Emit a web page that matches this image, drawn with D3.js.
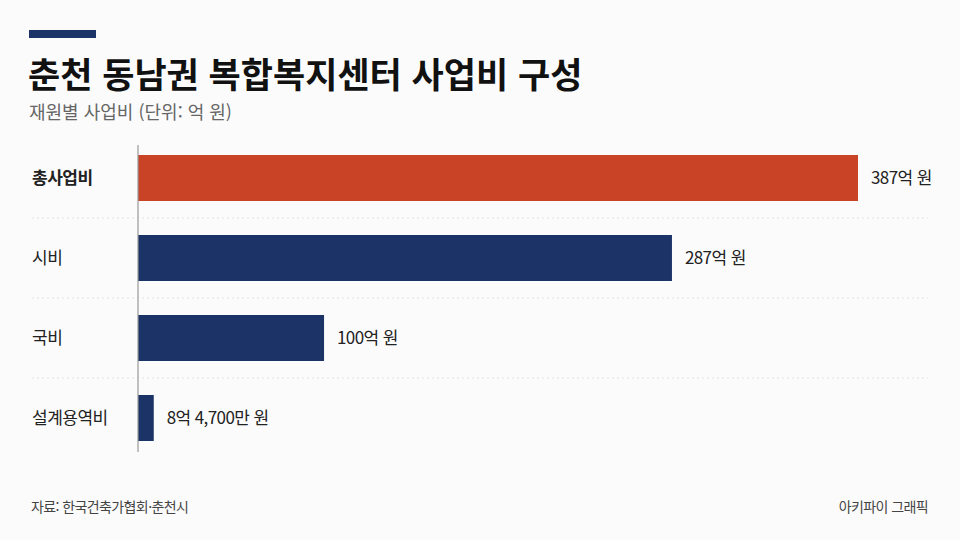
<!DOCTYPE html>
<html lang="ko">
<head>
<meta charset="utf-8">
<script src="https://cdn.jsdelivr.net/npm/d3@7"></script>
<style>
  html, body { margin: 0; padding: 0; background: #fbfbfb; }
  svg { display: block; font-family: "Noto Sans CJK KR", "Noto Sans", sans-serif; }
</style>
</head>
<body>
<svg id="chart" width="960" height="540"></svg>
<script>
// data
var categories = ['총사업비', '시비', '국비', '설계용역비'];
var values = [387, 287, 100, 8.47];
var valueLabels = ['387억 원', '287억 원', '100억 원', '8억 4,700만 원'];

var colors = {total: '#C94427', part: '#1B3366', accent: '#1B3366'};

var svg = d3.select('#chart');

svg.append('rect')
  .attr('width', 960).attr('height', 540)
  .attr('fill', '#fbfbfb');

// header
svg.append('rect')
  .attr('x', 29).attr('y', 30)
  .attr('width', 67).attr('height', 8)
  .attr('fill', colors.accent);

svg.append('text')
  .attr('x', 28).attr('y', 88)
  .attr('font-size', 35)
  .attr('font-weight', 700)
  .attr('fill', '#111')
  .text('춘천 동남권 복합복지센터 사업비 구성');

svg.append('text')
  .attr('x', 29).attr('y', 119)
  .attr('font-size', 18)
  .attr('fill', '#666')
  .text('재원별 사업비 (단위: 억 원)');

// scales
var x = d3.scaleLinear()
  .domain([0, 387])
  .range([138, 858]);

var y = d3.scaleBand()
  .domain(categories)
  .range([138, 458])
  .paddingInner(0.425)
  .paddingOuter(0.2125);

// separators between rows
var gap = (y.step() - y.bandwidth()) / 2;
svg.append('g').selectAll('line')
  .data(categories.slice(1))
  .enter().append('line')
  .attr('x1', 32).attr('x2', 928)
  .attr('y1', d => y(d) - gap)
  .attr('y2', d => y(d) - gap)
  .attr('stroke', '#e2e2e2')
  .attr('stroke-width', 1)
  .attr('stroke-dasharray', '2,3');

// bars
svg.append('g').selectAll('rect')
  .data(categories)
  .enter().append('rect')
  .attr('x', x(0))
  .attr('y', d => y(d))
  .attr('width', (d, i) => x(values[i]) - x(0))
  .attr('height', y.bandwidth())
  .attr('fill', (d, i) => i === 0 ? colors.total : colors.part);

// axis line
svg.append('line')
  .attr('x1', x(0)).attr('x2', x(0))
  .attr('y1', 145).attr('y2', 452)
  .attr('stroke', '#999')
  .attr('stroke-width', 1.2);

// category labels
svg.append('g').selectAll('text')
  .data(categories)
  .enter().append('text')
  .attr('x', 32)
  .attr('y', d => y(d) + y.bandwidth() / 2)
  .attr('dy', '0.35em')
  .attr('font-size', 17)
  .attr('font-weight', (d, i) => i === 0 ? 700 : 400)
  .attr('fill', '#222')
  .attr('letter-spacing', -0.5)
  .text(d => d);

// value labels
svg.append('g').selectAll('text')
  .data(categories)
  .enter().append('text')
  .attr('x', (d, i) => x(values[i]) + 13)
  .attr('y', d => y(d) + y.bandwidth() / 2)
  .attr('dy', '0.35em')
  .attr('font-size', 17)
  .attr('fill', '#222')
  .attr('letter-spacing', -0.6)
  .text((d, i) => valueLabels[i]);

// footer
svg.append('text')
  .attr('x', 31).attr('y', 512)
  .attr('font-size', 14)
  .attr('fill', '#444')
  .attr('letter-spacing', -0.6)
  .text('자료: 한국건축가협회·춘천시');

svg.append('text')
  .attr('x', 928).attr('y', 512)
  .attr('text-anchor', 'end')
  .attr('font-size', 14)
  .attr('fill', '#444')
  .attr('letter-spacing', -0.6)
  .text('아키파이 그래픽');
</script>
</body>
</html>
